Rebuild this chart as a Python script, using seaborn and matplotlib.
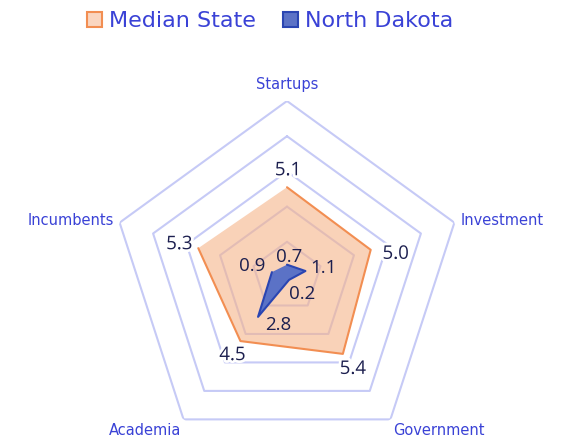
import numpy as np
import matplotlib
matplotlib.use("Agg")
import matplotlib.pyplot as plt
import matplotlib.patheffects as pe
from matplotlib.patches import Patch
import seaborn as sns

# data
categories = ["Startups", "Investment", "Government", "Academia", "Incumbents"]
median_state = [5.1, 5.0, 5.4, 4.5, 5.3]
north_dakota = [0.7, 1.1, 0.2, 2.8, 0.9]
grid_levels = [2, 4, 6, 8, 10]

sns.set_theme(style="white")
plt.rcParams["font.family"] = ["DejaVu Sans"]

label_blue = "#3a42d6"
value_navy = "#1c1f4f"
grid_col = "#c6caf6"
med_line = "#f28e52"
med_fill = "#f6b48a"
nd_line = "#2a45b2"
nd_fill = "#5b72c6"

n = len(categories)
theta = np.linspace(0, 2 * np.pi, n, endpoint=False)
theta_c = np.append(theta, theta[0])

fig = plt.figure(figsize=(5.64, 4.48), dpi=100)
ax = fig.add_axes([111 / 564, -5 / 448, 352 / 564, 352 / 448], projection="polar")
ax.set_theta_offset(np.pi / 2)
ax.set_theta_direction(-1)
ax.set_ylim(0, 10)
ax.grid(False)
ax.spines["polar"].set_visible(False)
ax.set_xticks([])
ax.set_yticks([])
ax.patch.set_alpha(0)

# pentagon grid
for lvl in grid_levels:
    ax.plot(theta_c, [lvl] * (n + 1), color=grid_col, lw=1.5, zorder=1)

# median state
med_c = np.append(median_state, median_state[0])
ax.fill(theta_c, med_c, color=med_fill, alpha=0.6, zorder=2, lw=0)
sns.lineplot(x=theta_c, y=med_c, sort=False, color=med_line, lw=1.5, ax=ax, zorder=3)

# north dakota
nd_c = np.append(north_dakota, north_dakota[0])
ax.fill(theta_c, nd_c, color=nd_fill, alpha=1.0, zorder=4, lw=0)
sns.lineplot(x=theta_c, y=nd_c, sort=False, color=nd_line, lw=1.5, ax=ax, zorder=5)
ax.set_xlabel("")
ax.set_ylabel("")

# category labels
cat_pos = [(10.95, "center", "center"), (10.35, "left", "center"),
           (10.25, "left", "top"), (10.25, "right", "top"), (10.35, "right", "center")]
for t, name, (r, ha, va) in zip(theta, categories, cat_pos):
    ax.text(t, r, name, ha=ha, va=va, fontsize=10.5, color=label_blue)

# value labels
med_off = [(1, 17), (25, -4), (10, -15), (-8, -14), (-19, 4)]
nd_off = [(2, 8), (18, 3), (13, -14), (20, -8), (-20, 6)]
for t, v, off in zip(theta, median_state, med_off):
    ax.annotate(f"{v:.1f}", (t, v), xytext=off, textcoords="offset pixels",
                ha="center", va="center", fontsize=13.5, color=value_navy, zorder=6,
                family="Open Sans",
                path_effects=[pe.withStroke(linewidth=4, foreground="white")])
for t, v, off in zip(theta, north_dakota, nd_off):
    ax.annotate(f"{v:.1f}", (t, v), xytext=off, textcoords="offset pixels",
                ha="center", va="center", fontsize=13.5, color=value_navy, zorder=6,
                family="Open Sans")

handles = [Patch(facecolor="#fad6c0", edgecolor=med_line, lw=1.5, label="Median State"),
           Patch(facecolor=nd_fill, edgecolor=nd_line, lw=1.5, label="North Dakota")]
fig.legend(handles=handles, loc="upper center", bbox_to_anchor=(270 / 564, 0.995),
           ncol=2, frameon=False, fontsize=16, labelcolor=label_blue,
           handlelength=0.7, handleheight=0.7, handletextpad=0.3, columnspacing=1.2,
           borderaxespad=0.0)

fig.savefig("out.png", dpi=100)
